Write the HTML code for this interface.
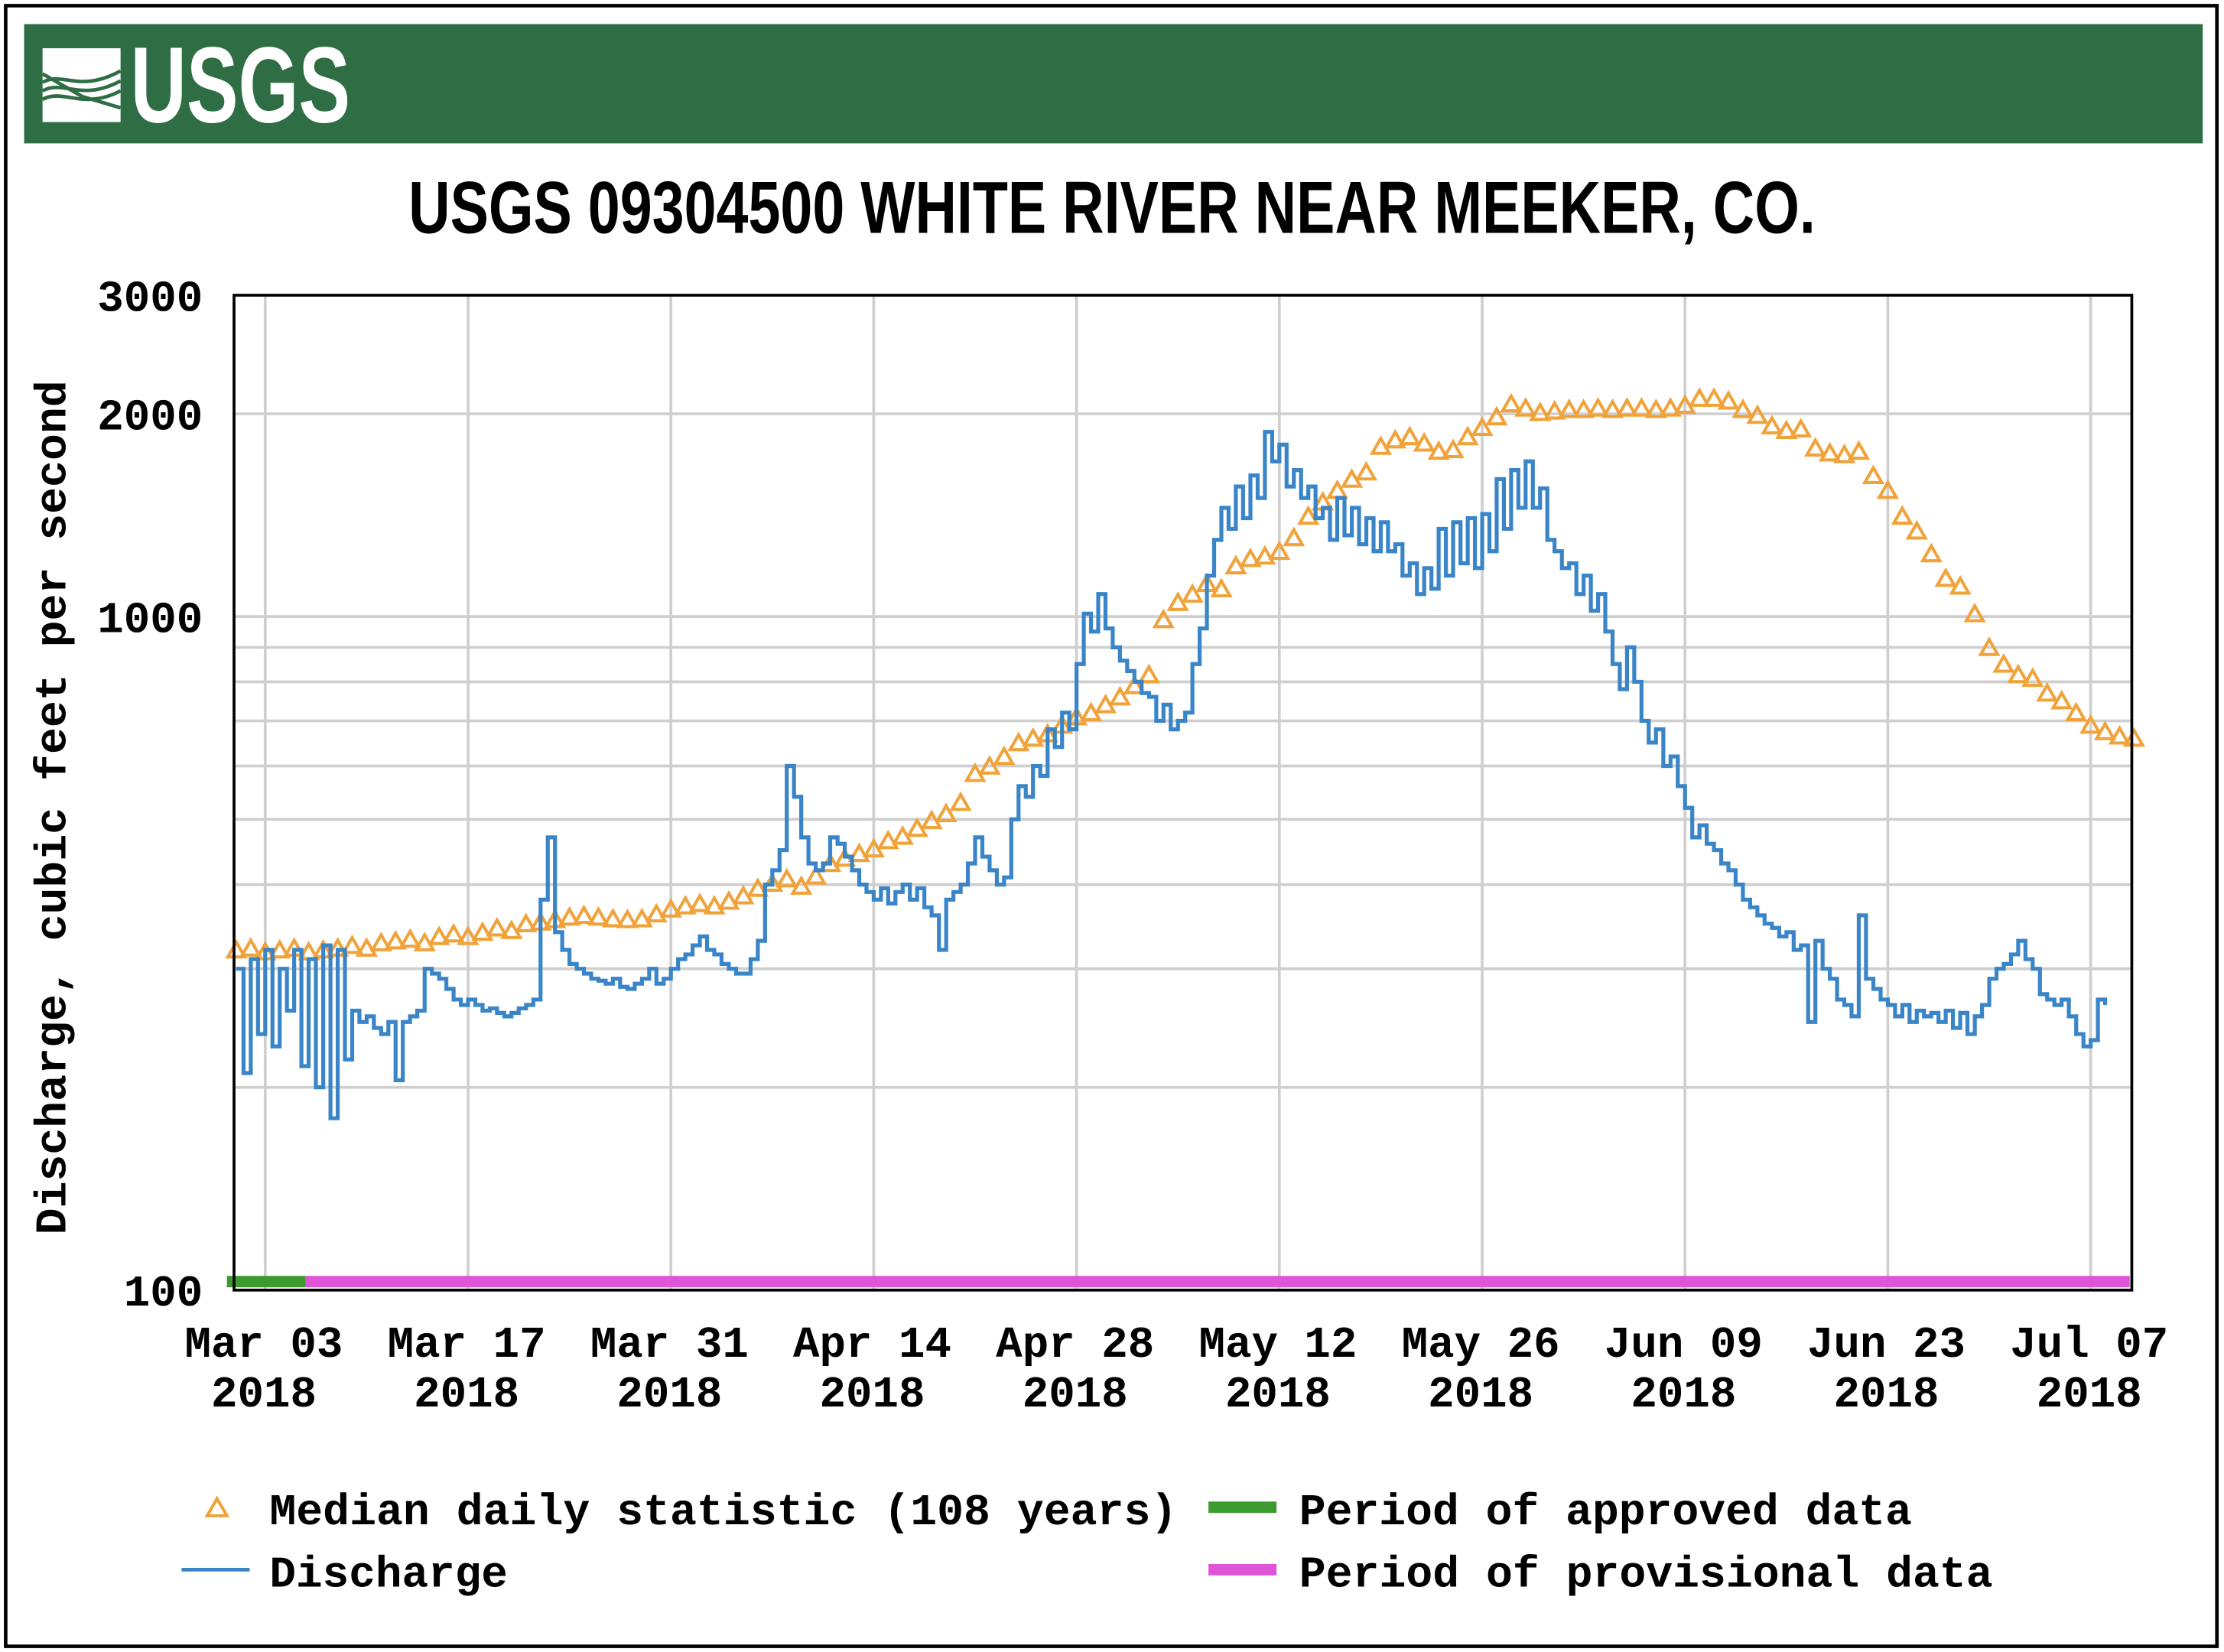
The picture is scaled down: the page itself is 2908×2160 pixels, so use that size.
<!DOCTYPE html>
<html><head><meta charset="utf-8"><title>USGS 09304500 White River near Meeker, CO</title>
<style>
html,body{margin:0;padding:0;background:#fff;}
svg{display:block;}
.mono{font-family:"Liberation Mono",monospace;font-weight:bold;fill:#000;}
</style></head>
<body>
<svg id="chart" width="2908" height="2160" viewBox="0 0 1568 1164" preserveAspectRatio="none" xmlns="http://www.w3.org/2000/svg">
  <rect x="4" y="4" width="1559" height="1156" fill="#fff" stroke="#000" stroke-width="2.5"/>
  <rect x="17" y="17" width="1536" height="84" fill="#2f6e45"/>
  <g>
    <rect x="30" y="34" width="55" height="52" fill="#fff"/>
    <path d="M30 58 C45 50,55 66,85 50 M30 64 C45 56,57 72,85 57 M30 70 C45 62,58 78,85 64 M30 52 L58 68 L85 76" stroke="#2f6e45" stroke-width="2.5" fill="none"/>
    <text x="92" y="86" font-family="'Liberation Sans Narrow','Liberation Sans',sans-serif" font-weight="bold" font-size="76" fill="#fff" textLength="155" lengthAdjust="spacingAndGlyphs">USGS</text>
  </g>
  <text x="288" y="164" font-family="'Liberation Sans Narrow','Liberation Sans',sans-serif" font-weight="bold" font-size="52" fill="#000" textLength="992" lengthAdjust="spacingAndGlyphs">USGS 09304500 WHITE RIVER NEAR MEEKER, CO.</text>
  <g id="grid"></g>
  <g id="bars"></g>
  <g id="median"></g>
  <g id="discharge"></g>
  <rect x="165" y="208" width="1338" height="701" fill="none" stroke="#000" stroke-width="2"/>
  <g id="yticks"></g>
  <g id="xticks"></g>
  <text class="mono" font-size="31" transform="translate(46,569) rotate(-90)" text-anchor="middle" textLength="602" lengthAdjust="spacingAndGlyphs">Discharge, cubic feet per second</text>
  <g>
    <g>
      <path d="M146 1068 L153 1056 L160 1068 Z" fill="none" stroke="#f0a33a" stroke-width="2.2"/>
      <text class="mono" x="190" y="1074" font-size="31" textLength="640" lengthAdjust="spacingAndGlyphs">Median daily statistic (108 years)</text>
    </g>
    <g>
      <line x1="128" y1="1106" x2="176" y2="1106" stroke="#3a85c8" stroke-width="2.5"/>
      <text class="mono" x="190" y="1118" font-size="31" textLength="168" lengthAdjust="spacingAndGlyphs">Discharge</text>
    </g>
    <g>
      <rect x="852" y="1058" width="48" height="8" fill="#3c9a2f"/>
      <text class="mono" x="916" y="1074" font-size="31" textLength="432" lengthAdjust="spacingAndGlyphs">Period of approved data</text>
    </g>
    <g>
      <rect x="852" y="1102" width="48" height="8" fill="#e055d8"/>
      <text class="mono" x="916" y="1118" font-size="31" textLength="489" lengthAdjust="spacingAndGlyphs">Period of provisional data</text>
    </g>
  </g>
</svg>
<script>
// ---- data (days since Mar 1 2018) ----
const yTickValues = [100, 1000, 2000, 3000];
const yTickLabels = ["100", "1000", "2000", "3000"];
const yGridValues = [200,300,400,500,600,700,800,900,1000,2000];
const xTickDays = [2,16,30,44,58,72,86,100,114,128];
const xTickLabels = ["Mar 03","Mar 17","Mar 31","Apr 14","Apr 28","May 12","May 26","Jun 09","Jun 23","Jul 07"];
const xTickYears = ["2018","2018","2018","2018","2018","2018","2018","2018","2018","2018"];
const medianStartDay = 0;
const medianValues = [
320,322,318,320,322,318,320,322,325,322,
328,330,332,328,335,338,335,340,345,342,
350,352,355,358,360,358,356,355,356,362,368,
372,375,372,378,385,395,402,408,398,412,
430,438,445,452,465,472,485,498,510,530,
585,600,620,650,660,670,690,710,720,740,
760,790,820,990,1050,1080,1120,1100,1190,1220,
1230,1250,1310,1410,1480,1540,1600,1640,1790,1830,
1850,1810,1760,1770,1850,1910,1980,2070,2040,2010,2020,
2030,2030,2040,2030,2040,2040,2030,2040,2060,2110,
2110,2090,2030,1990,1920,1890,1900,1780,1750,1740,
1760,1620,1540,1410,1340,1240,1140,1110,1010,900,
850,820,810,770,750,720,690,675,665,660
];
const dischargeStartDay = 0;
const dischargeStep = 0.5;
const dischargeValues = [
300,210,310,240,320,230,300,260,320,215,310,200,325,180,320,220,
260,250,255,245,240,250,205,250,255,260,
300,295,290,280,270,265,
270,265,260,262,258,255,258,262,265,270,
380,470,340,320,
305,300,295,290,288,285,290,282,280,285,290,300,
285,290,300,310,315,325,335,320,315,305,
300,295,295,310,
330,400,420,450,600,540,
470,430,420,430,470,460,
440,420,400,390,380,395,375,390,400,380,395,370,360,320,
380,390,400,430,470,440,420,400,410,500,
560,540,600,580,680,640,720,680,
850,1010,950,1080,960,900,860,830,
800,770,760,700,740,680,700,720,
850,960,1150,1300,1450,1350,
1560,1400,1620,1500,1880,1700,
1800,1560,1650,1500,1560,1400,
1450,1300,1500,1320,1450,1280,1400,1250,1380,1250,
1280,1150,1200,1080,1180,1100,
1350,1150,1380,1200,1400,1180,1420,1250,1600,1350,
1650,1450,1700,1450,1550,1300,
1250,1180,1200,1080,1150,1020,1080,950,
850,780,900,800,700,650,680,600,620,560,
520,470,490,460,450,430,420,400,380,370,
360,350,345,335,340,320,325,250,330,300,
290,270,265,255,360,290,
280,270,265,255,265,250,260,255,258,250,
260,245,258,240,255,265,
290,300,305,315,330,310,
300,275,270,265,270,255,
240,230,235,270,265
];
const approvedEndDay = 4.8;
const periodEndDay = 130.7;

// ---- scales ----
const PL=165, PR=1503, PT=208, PB=909;
function xScale(d){ return 187 + (d-2)*10.214; }
function yScale(v){ return PB - (PB-PT)*Math.log(v/100)/Math.log(30); }
const NS="http://www.w3.org/2000/svg";
function mk(tag, attrs, parent){ const e=document.createElementNS(NS,tag); for(const k in attrs) e.setAttribute(k,attrs[k]); parent.appendChild(e); return e; }

const grid=document.getElementById('grid');
yGridValues.forEach(v=>{
  const l=mk('line',{x1:PL,x2:PR,y1:yScale(v),y2:yScale(v),stroke:'#cfcfcf','stroke-width':2},grid);
  
  
});
xTickDays.forEach(d=>{
  const l=mk('line',{x1:xScale(d),x2:xScale(d),y1:PT,y2:PB,stroke:'#cfcfcf','stroke-width':2},grid);
  
  
});

const bars=document.getElementById('bars');
const ba=mk('rect',{x:PL-5,y:899,width:xScale(approvedEndDay)-(PL-5),height:8,fill:'#3c9a2f'},bars);


const bp=mk('rect',{x:xScale(approvedEndDay),y:899,width:xScale(periodEndDay)-xScale(approvedEndDay),height:8,fill:'#e055d8'},bars);



const med=document.getElementById('median');
medianValues.forEach((v,i)=>{
  const x=xScale(medianStartDay+i), y=yScale(v);
  const t=mk('path',{d:`M${x-6} ${y+5} L${x} ${y-5.5} L${x+6} ${y+5} Z`,fill:'none',stroke:'#f0a33a','stroke-width':2.2},med);
  
  
});

const dis=document.getElementById('discharge');
let dpath='';
dischargeValues.forEach((v,i)=>{
  const x=xScale(dischargeStartDay+i*dischargeStep).toFixed(1), y=yScale(v).toFixed(1);
  dpath += (i===0 ? `M${x} ${y}` : ` H${x} V${y}`);
});
const pl=mk('path',{d:dpath,fill:'none',stroke:'#3a85c8','stroke-width':2.8},dis);



const yt=document.getElementById('yticks');
yTickValues.forEach((v,i)=>{
  const t=mk('text',{x:143,y:yScale(v)+11,'text-anchor':'end','font-size':31,class:'mono'},yt);
  t.textContent=yTickLabels[i];
  
  
});
const xt=document.getElementById('xticks');
xTickDays.forEach((d,i)=>{
  const t=mk('text',{x:xScale(d)-1,y:956,'text-anchor':'middle','font-size':31,class:'mono'},xt);
  t.textContent=xTickLabels[i];
  
  
  const t2=mk('text',{x:xScale(d)-1,y:991,'text-anchor':'middle','font-size':31,class:'mono'},xt);
  t2.textContent=xTickYears[i];
  
  
});
</script>
</body></html>
